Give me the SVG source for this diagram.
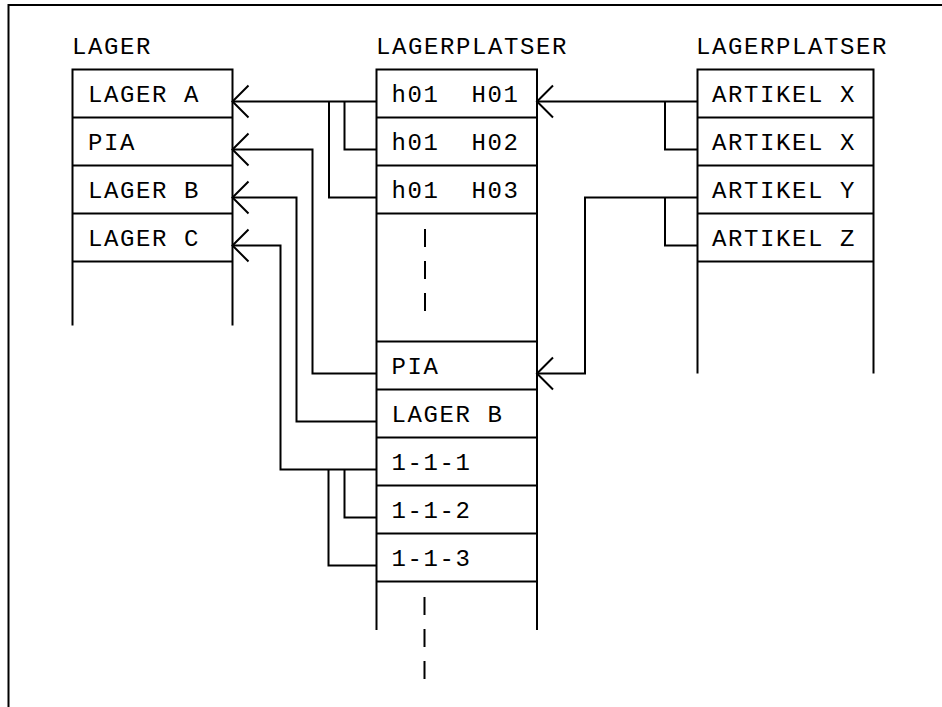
<svg xmlns="http://www.w3.org/2000/svg" width="942" height="707" viewBox="0 0 942 707">
<style>
.ln{fill:none;stroke:#000;stroke-width:2}
.t{font-family:"Liberation Mono","Courier New",monospace;font-size:24px;letter-spacing:1.6px;fill:#000}
.dash{fill:none;stroke:#000;stroke-width:2;stroke-dasharray:18 14}
</style>
<defs>
<marker id="arr" markerUnits="userSpaceOnUse" viewBox="-20 -20 40 40" markerWidth="40" markerHeight="40" refX="0" refY="0" orient="auto" overflow="visible">
<path d="M-16,-16 L0,0 L-16,16" fill="none" stroke="#000" stroke-width="2"/>
</marker>
</defs>
<rect width="942" height="707" fill="#fff"/>
<path class="ln" d="M8.5,707 V5 H942"/>
<g id="lager">
<text class="t" x="72" y="54">LAGER</text>
<path class="ln" d="M72.5,325.5 V69.5 H232.5 V325.5 M72.5,117.5 H232.5 M72.5,165.5 H232.5 M72.5,213.5 H232.5 M72.5,261.5 H232.5"/>
<g id="lager-a"><text class="t" x="88" y="102">LAGER A</text></g>
<g id="lager-pia"><text class="t" x="88" y="150">PIA</text></g>
<g id="lager-b"><text class="t" x="88" y="198">LAGER B</text></g>
<g id="lager-c"><text class="t" x="88" y="246">LAGER C</text></g>
</g>
<g id="lagerplatser1">
<text class="t" x="376" y="54">LAGERPLATSER</text>
<path class="ln" d="M376.5,630 V69.5 H537 V630 M376.5,117.5 H537 M376.5,165.5 H537 M376.5,213.5 H537 M376.5,341.5 H537 M376.5,389.5 H537 M376.5,437.5 H537 M376.5,485.5 H537 M376.5,533.5 H537 M376.5,581.5 H537"/>
<g id="h01-h01"><text class="t" x="391.5" y="102" xml:space="preserve">h01  H01</text></g>
<g id="h01-h02"><text class="t" x="391.5" y="150" xml:space="preserve">h01  H02</text></g>
<g id="h01-h03"><text class="t" x="391.5" y="198" xml:space="preserve">h01  H03</text></g>
<path class="dash" d="M425,229 V311"/>
<g id="plats-pia"><text class="t" x="391.5" y="374">PIA</text></g>
<g id="plats-lager-b"><text class="t" x="391.5" y="422">LAGER B</text></g>
<g id="plats-111"><text class="t" x="391.5" y="470">1-1-1</text></g>
<g id="plats-112"><text class="t" x="391.5" y="518">1-1-2</text></g>
<g id="plats-113"><text class="t" x="391.5" y="566">1-1-3</text></g>
<path class="dash" d="M424.5,597 V679"/>
</g>
<g id="lagerplatser2">
<text class="t" x="696" y="54">LAGERPLATSER</text>
<path class="ln" d="M697.5,373.5 V69.5 H873.5 V373.5 M697.5,117.5 H873.5 M697.5,165.5 H873.5 M697.5,213.5 H873.5 M697.5,261.5 H873.5"/>
<g id="artikel-x1"><text class="t" x="712" y="102">ARTIKEL X</text></g>
<g id="artikel-x2"><text class="t" x="712" y="150">ARTIKEL X</text></g>
<g id="artikel-y"><text class="t" x="712" y="198">ARTIKEL Y</text></g>
<g id="artikel-z"><text class="t" x="712" y="246">ARTIKEL Z</text></g>
</g>
<g id="connectors">
<path class="ln" marker-end="url(#arr)" d="M376.5,101.5 H232.5"/>
<path class="ln" d="M376.5,149.5 H344.5 V101.5"/>
<path class="ln" d="M376.5,197.5 H329 V101.5"/>
<path class="ln" marker-end="url(#arr)" d="M376.5,373.5 H312.5 V149.5 H232.5"/>
<path class="ln" marker-end="url(#arr)" d="M376.5,421.5 H296.5 V197.5 H232.5"/>
<path class="ln" marker-end="url(#arr)" d="M376.5,469.5 H280.5 V245.5 H232.5"/>
<path class="ln" d="M376.5,517.5 H344.5 V469.5"/>
<path class="ln" d="M376.5,565.5 H328.5 V469.5"/>
<path class="ln" marker-end="url(#arr)" d="M697.5,101.5 H537"/>
<path class="ln" d="M697.5,149.5 H665 V101.5"/>
<path class="ln" marker-end="url(#arr)" d="M697.5,197.5 H585 V373.5 H537"/>
<path class="ln" d="M697.5,245.5 H665 V197.5"/>
</g>
</svg>
